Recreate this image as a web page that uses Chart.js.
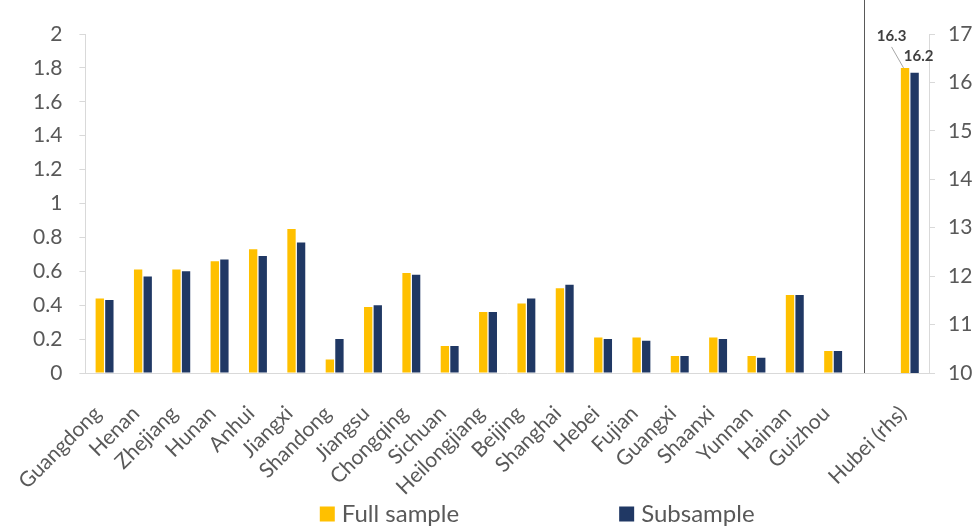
<!DOCTYPE html>
<html>
<head>
<meta charset="utf-8">
<script src="https://cdn.jsdelivr.net/npm/chart.js@4.4.1/dist/chart.umd.min.js"></script>
<style>
  html, body { margin: 0; padding: 0; background: #ffffff; }
  #wrap { width: 974px; height: 527px; }
</style>
</head>
<body>
<div id="wrap"><canvas id="chart" width="974" height="527"></canvas></div>
<script>
// Provinces plotted on the left axis
const provinces = ['Guangdong', 'Henan', 'Zhejiang', 'Hunan', 'Anhui', 'Jiangxi', 'Shandong',
  'Jiangsu', 'Chongqing', 'Sichuan', 'Heilongjiang', 'Beijing', 'Shanghai', 'Hebei', 'Fujian',
  'Guangxi', 'Shaanxi', 'Yunnan', 'Hainan', 'Guizhou'];
// Hubei is plotted on its own right-hand axis
const hubeiLabel = 'Hubei (rhs)';

const fullSample = [0.44, 0.61, 0.61, 0.66, 0.73, 0.85, 0.08, 0.39, 0.59, 0.16,
  0.36, 0.41, 0.50, 0.21, 0.21, 0.10, 0.21, 0.10, 0.46, 0.13];
const subSample = [0.43, 0.57, 0.60, 0.67, 0.69, 0.77, 0.20, 0.40, 0.58, 0.16,
  0.36, 0.44, 0.52, 0.20, 0.19, 0.10, 0.20, 0.09, 0.46, 0.13];
const hubeiFull = [16.3];
const hubeiSub = [16.2];

const leftTicks = [0, 0.2, 0.4, 0.6, 0.8, 1, 1.2, 1.4, 1.6, 1.8, 2];
const rightTicks = [10, 11, 12, 13, 14, 15, 16, 17];

const seriesNames = ['Full sample', 'Subsample'];

// an empty slot separates the provinces from Hubei
const categories = [...provinces, '', hubeiLabel];
const nulls = n => Array(n).fill(null);
const leftFull = [...fullSample, null, null];
const leftSub = [...subSample, null, null];
const rightFull = [...nulls(provinces.length + 1), ...hubeiFull];
const rightSub = [...nulls(provinces.length + 1), ...hubeiSub];

const YELLOW = '#FFC000';
const NAVY = '#203864';
const TEXT = '#595959';
const AXIS = '#d9d9d9';
const FONT = 'Lato, "Open Sans", sans-serif';

// vertical rule between the provinces and Hubei
const dividerPlugin = {
  id: 'divider',
  afterDatasetsDraw(chart, args, opts) {
    const x = chart.scales.x.getPixelForValue(opts.at);
    const ctx = chart.ctx;
    ctx.save();
    ctx.strokeStyle = opts.color;
    ctx.lineWidth = 1;
    ctx.beginPath();
    ctx.moveTo(Math.round(x) + 0.5, 0);
    ctx.lineTo(Math.round(x) + 0.5, chart.chartArea.bottom);
    ctx.stroke();
    ctx.restore();
  }
};

// value labels for the Hubei bars
const hubeiLabelsPlugin = {
  id: 'hubeiLabels',
  afterDatasetsDraw(chart, args, opts) {
    const ctx = chart.ctx;
    ctx.save();
    ctx.font = 'bold 15px ' + FONT;
    ctx.fillStyle = '#404040';
    ctx.textAlign = 'center';
    ctx.textBaseline = 'middle';
    opts.labels.forEach(l => {
      const meta = chart.getDatasetMeta(l.dataset);
      const idx = categories.length - 1;
      const el = meta.data[idx];
      const v = chart.data.datasets[l.dataset].data[idx];
      const lx = el.x + l.dx, ly = el.y + l.dy;
      if (l.leader) {
        ctx.strokeStyle = '#a6a6a6';
        ctx.lineWidth = 1;
        ctx.beginPath();
        ctx.moveTo(lx, ly + 11);
        ctx.lineTo(el.x - 1.5, el.y);
        ctx.stroke();
      }
      ctx.fillText(v.toFixed(1), lx, ly);
    });
    ctx.restore();
  }
};

// legend along the bottom edge
const bottomLegendPlugin = {
  id: 'bottomLegend',
  afterDraw(chart, args, opts) {
    const ctx = chart.ctx;
    ctx.save();
    ctx.font = opts.fontSize + 'px ' + FONT;
    ctx.textBaseline = 'middle';
    ctx.textAlign = 'left';
    const items = opts.datasets.map(i => ({
      text: chart.data.datasets[i].label,
      color: chart.data.datasets[i].backgroundColor
    }));
    const widths = items.map(it => opts.box + opts.textGap + ctx.measureText(it.text).width);
    const total = widths.reduce((a, b) => a + b, 0) + opts.itemGap * (items.length - 1);
    const ca = chart.chartArea;
    let x = (ca.left + ca.right) / 2 + opts.shift - total / 2;
    const y = chart.height - opts.bottom;
    items.forEach((it, i) => {
      ctx.fillStyle = it.color;
      ctx.fillRect(x, y - opts.box / 2, opts.box, opts.box);
      ctx.fillStyle = TEXT;
      ctx.fillText(it.text, x + opts.box + opts.textGap, y);
      x += widths[i] + opts.itemGap;
    });
    ctx.restore();
  }
};

function fmt(v) { return String(Number(v.toFixed(1))); }

function draw() {
  Chart.defaults.font.family = FONT;
  Chart.defaults.color = TEXT;
  new Chart(document.getElementById('chart'), {
    type: 'bar',
    data: {
      labels: categories,
      datasets: [
        { label: seriesNames[0], data: leftFull, yAxisID: 'y', backgroundColor: YELLOW },
        { label: seriesNames[1], data: leftSub, yAxisID: 'y', backgroundColor: NAVY },
        { label: seriesNames[0], data: rightFull, yAxisID: 'y2', backgroundColor: YELLOW },
        { label: seriesNames[1], data: rightSub, yAxisID: 'y2', backgroundColor: NAVY }
      ]
    },
    options: {
      responsive: false,
      animation: false,
      skipNull: true,
      categoryPercentage: 0.5,
      barPercentage: 0.87,
      layout: { padding: { top: 34, left: 0, right: 0, bottom: 24 } },
      plugins: {
        legend: { display: false },
        tooltip: { enabled: false },
        divider: { at: 19.8, color: '#595959' },
        hubeiLabels: {
          labels: [
            { dataset: 2, dx: -13.5, dy: -32, leader: true },
            { dataset: 3, dx: 4, dy: -17, leader: false }
          ]
        },
        bottomLegend: { datasets: [0, 1], fontSize: 24, box: 15, textGap: 7, itemGap: 160, shift: 30, bottom: 13 }
      },
      scales: {
        x: {
          grid: { display: false, drawTicks: false },
          border: { color: AXIS, width: 1 },
          ticks: {
            autoSkip: false, minRotation: 45, maxRotation: 45,
            font: { size: 21 }, color: TEXT, padding: 28, labelOffset: -7
          },
          afterFit(scale) { scale.height = 130; }
        },
        y: {
          position: 'left',
          min: 0, max: 2,
          afterBuildTicks(axis) { axis.ticks = leftTicks.map(v => ({ value: v })); },
          grid: { drawOnChartArea: false, drawTicks: true, tickLength: 6, color: AXIS },
          border: { color: AXIS, width: 1 },
          ticks: { font: { size: 21 }, color: TEXT, padding: 17, callback: v => fmt(v) },
          afterFit(scale) { scale.width = 68; }
        },
        y2: {
          position: 'right',
          min: 10, max: 17,
          afterBuildTicks(axis) { axis.ticks = rightTicks.map(v => ({ value: v })); },
          grid: { drawOnChartArea: false, drawTicks: true, tickLength: 6, color: AXIS },
          border: { color: AXIS, width: 1 },
          ticks: { font: { size: 21 }, color: TEXT, padding: 13, callback: v => fmt(v) },
          afterFit(scale) { scale.width = 45; }
        }
      }
    },
    plugins: [dividerPlugin, hubeiLabelsPlugin, bottomLegendPlugin]
  });
}

document.fonts.load('21px Lato').then(draw, draw);
</script>
</body>
</html>
